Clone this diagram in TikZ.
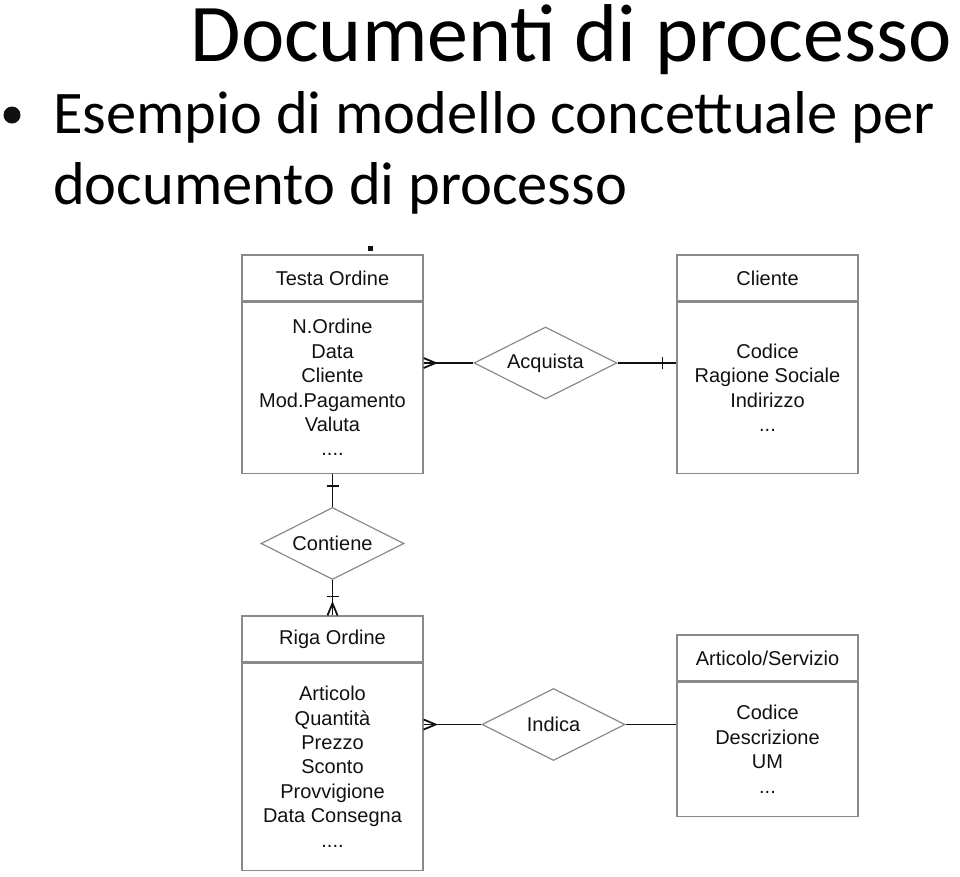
\documentclass[tikz,border=0pt]{standalone}
\usepackage{fontspec}
\setmainfont{Carlito}
\newfontfamily\helvfont{Liberation Sans}
\usepackage{tikz}
\usetikzlibrary{shapes.geometric}
\definecolor{my_gray}{HTML}{8A8A8A}
\definecolor{my_black}{HTML}{111111}
% zampa di gallina (lato "molti") sul bordo di un'entita'
\newcommand{\crowfoot}[2]{%
    \begin{scope}[shift={(#1)}, rotate=#2]
        \draw[link] (0, 5) -- (12, 0) -- (0, -5);
    \end{scope}
}
% trattino (lato "uno") a distanza #3 dal bordo
\newcommand{\onebar}[3]{%
    \begin{scope}[shift={(#1)}, rotate=#2]
        \draw[link, line width=1.5pt] (#3, -6) -- (#3, 6);
    \end{scope}
}

\begin{document}
\begin{tikzpicture}[
    x=1pt, y=1pt,
    slidetext/.style={anchor=base west, font=\fontsize{60.5}{60.5}\selectfont},
    boxtext/.style={font=\helvfont\fontsize{20}{24.4}\selectfont, text=my_black},
    head/.style={boxtext, draw=my_gray, line width=1.2pt, minimum width=181pt,
        minimum height=46pt, inner sep=0pt},
    entity/.style={boxtext, draw=my_gray, line width=1.2pt, minimum width=181pt,
        align=center, inner sep=0pt, anchor=north},
    relation/.style={boxtext, diamond, draw=my_gray, line width=1.2pt, aspect=2,
        minimum width=143pt, minimum height=72pt, inner sep=0pt},
    link/.style={my_black, line width=1.8pt}
]
\useasboundingbox (0, 0) rectangle (960, -876);

% ---- titolo e punto elenco ----
\node[anchor=base east, font=\fontsize{82}{82}\selectfont, inner sep=0pt] (title)
    at (952, -61) {Documenti di processo};
\fill[my_black] (12, -115) circle (8.5);
\node[slidetext, inner xsep=0pt] (line1) at (53, -133)
    {Esempio di modello concettuale per};
\node[slidetext, inner xsep=0pt] (line2) at (53, -204)
    {documento di processo};
\fill[my_black] (368, -246) rectangle (373, -251);

% ---- entita' ----
\node[head] (testaT) at (332.5, -278) {Testa Ordine};
\node[entity, minimum height=171pt] (testa) at (testaT.south)
    {N.Ordine\\Data\\Cliente\\Mod.Pagamento\\Valuta\\....};

\node[head] (clienteT) at (767.5, -278) {Cliente};
\node[entity, minimum height=171pt] (cliente) at (clienteT.south)
    {Codice\\Ragione Sociale\\Indirizzo\\...};

\node[head] (rigaT) at (332.5, -639) {Riga Ordine};
\node[entity, minimum height=207pt] (riga) at (rigaT.south)
    {Articolo\\Quantità\\Prezzo\\Sconto\\Provvigione\\Data Consegna\\....};

\node[head] (articoloT) at (767.5, -658) {Articolo/Servizio};
\node[entity, minimum height=134pt] (articolo) at (articoloT.south)
    {Codice\\Descrizione\\UM\\...};

% ---- relazioni ----
\node[relation] (acquista) at (545.5, -363) {Acquista};
\node[relation] (contiene) at (332.5, -543.5) {Contiene};
\node[relation] (indica) at (553.5, -724.5) {Indica};

% ---- collegamenti ----
\coordinate (acqT) at (testa.east |- acquista.west);
\coordinate (acqC) at (cliente.west |- acquista.east);
\coordinate (indR) at (riga.east |- indica.west);
\coordinate (indA) at (articolo.west |- indica.east);

\draw[link] (acqT) -- (acquista.west);
\draw[link] (acquista.east) -- (acqC);
\crowfoot{acqT}{0}
\onebar{acqC}{180}{14}

\draw[link] (testa.south) -- (contiene.north);
\draw[link] (contiene.south) -- (rigaT.north);
\onebar{testa.south}{-90}{12}
\onebar{rigaT.north}{90}{19}
\crowfoot{rigaT.north}{90}

\draw[link] (indR) -- (indica.west);
\draw[link] (indica.east) -- (indA);
\crowfoot{indR}{0}

\end{tikzpicture}
\end{document}
